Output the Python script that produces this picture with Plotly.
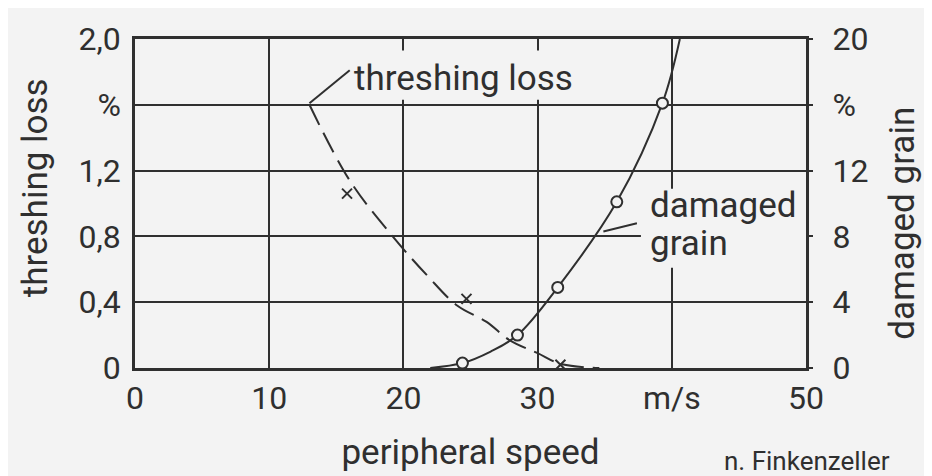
import plotly.graph_objects as go

# ---- data ----
speed_ticks = [0, 10, 20, 30, 40, 50]
speed_ticktext = ["0", "10", "20", "30", "m/s", "50"]
loss_ticks = [0, 0.4, 0.8, 1.2, 1.6, 2.0]
loss_ticktext = ["0", "0,4", "0,8", "1,2", "%", "2,0"]
grain_ticks = [0, 4, 8, 12, 16, 20]
grain_ticktext = ["0", "4", "8", "12", "%", "20"]

# threshing loss (dashed curve, left axis, %)
loss_curve_speed = [13.0, 16.0, 19.2, 21.8, 24.0, 26.2, 27.9, 30.0, 31.7, 34.6]
loss_curve_value = [1.60, 1.14, 0.80, 0.56, 0.38, 0.28, 0.17, 0.09, 0.025, 0.0]
loss_meas_speed = [15.8, 24.7, 31.7]
loss_meas_value = [1.06, 0.42, 0.02]

# damaged grain (solid curve, right axis, %)
grain_curve_speed = [22.0, 24.4, 26.5, 28.5, 31.5, 35.9, 39.3, 40.6]
grain_curve_value = [0.0, 0.3, 1.0, 2.0, 4.9, 10.1, 16.1, 20.0]
grain_meas_speed = [24.4, 28.5, 31.5, 35.9, 39.3]
grain_meas_value = [0.3, 2.0, 4.9, 10.1, 16.1]

INK = "#2f2f2f"
BG = "#f3f3f3"
FONT = "Roboto"

W, H = 932, 476
ML, MR, MT, MB = 127, 134, 25, 116   # page body adds 8px offset
PW, PH = W - ML - MR, H - MT - MB


def px(x_screen):
    return (x_screen - 8 - ML) / PW


def py(y_screen):
    return (H - MB - (y_screen - 8)) / PH


fig = go.Figure()

fig.add_trace(go.Scatter(
    x=loss_curve_speed, y=loss_curve_value, mode="lines",
    line=dict(color=INK, width=2, dash="22px,9px", shape="spline"),
    yaxis="y", showlegend=False, hoverinfo="skip"))
fig.add_trace(go.Scatter(
    x=loss_meas_speed, y=loss_meas_value, mode="markers",
    marker=dict(symbol="x-thin", size=10, line=dict(color=INK, width=2)),
    yaxis="y", showlegend=False))
fig.add_trace(go.Scatter(
    x=grain_curve_speed, y=grain_curve_value, mode="lines",
    line=dict(color=INK, width=2, shape="spline"),
    yaxis="y2", showlegend=False, hoverinfo="skip"))
fig.add_trace(go.Scatter(
    x=grain_meas_speed, y=grain_meas_value, mode="markers",
    marker=dict(symbol="circle", size=11, color=BG, line=dict(color=INK, width=2)),
    yaxis="y2", showlegend=False))

tickfont = dict(family=FONT, size=32, color=INK)
bigfont = dict(family=FONT, size=35, color=INK)

fig.update_layout(
    width=W, height=H,
    margin=dict(l=ML, r=MR, t=MT, b=MB),
    paper_bgcolor=BG, plot_bgcolor=BG,
    font=dict(family=FONT, color=INK),
    xaxis=dict(
        range=[0, 50], tickvals=speed_ticks, ticktext=speed_ticktext,
        showgrid=True, gridcolor=INK, gridwidth=2, zeroline=False,
        showline=True, linecolor=INK, linewidth=2.5, mirror=True,
        ticks="", ticklabelstandoff=0, tickfont=tickfont,
        title=dict(text="peripheral speed", font=bigfont, standoff=24),
    ),
    yaxis=dict(
        range=[0, 2], tickvals=loss_ticks, ticktext=loss_ticktext,
        showgrid=True, gridcolor=INK, gridwidth=2, zeroline=False,
        showline=True, linecolor=INK, linewidth=2.5, mirror=True,
        ticks="", ticklabelstandoff=5, tickfont=tickfont,
    ),
    yaxis2=dict(
        range=[0, 20], tickvals=grain_ticks, ticktext=grain_ticktext,
        overlaying="y", side="right", showgrid=False, zeroline=False,
        showline=False, ticks="outside", ticklen=6, tickwidth=2, tickcolor=INK,
        ticklabelstandoff=13, tickfont=tickfont,
    ),
    shapes=[
        # gaps in the grid behind the labels
        dict(type="rect", xref="x", yref="y", x0=15.6, x1=33.3, y0=1.63, y1=1.93,
             fillcolor=BG, line=dict(width=0), layer="between"),
        dict(type="rect", xref="x", yref="y", x0=37.7, x1=50, y0=0.61, y1=1.09,
             fillcolor=BG, line=dict(width=0), layer="between"),
        # leader lines
        dict(type="line", xref="x", yref="y", x0=13.0, y0=1.61, x1=16.0, y1=1.81,
             line=dict(color=INK, width=2)),
        dict(type="line", xref="x", yref="y2", x0=34.9, y0=8.3, x1=37.4, y1=8.8,
             line=dict(color=INK, width=2)),
    ],
    annotations=[
        dict(text="threshing loss", x=px(35), y=py(185), xref="paper", yref="paper",
             textangle=-90, xanchor="center", yanchor="middle", showarrow=False, font=bigfont),
        dict(text="damaged grain", x=px(903), y=py(221), xref="paper", yref="paper",
             textangle=-90, xanchor="center", yanchor="middle", showarrow=False, font=bigfont),
        dict(text="threshing loss", x=16.2, y=1.76, xref="x", yref="y", xanchor="left",
             yanchor="middle", showarrow=False, font=bigfont),
        dict(text="damaged", x=38.2, y=0.985, xref="x", yref="y", xanchor="left",
             yanchor="middle", showarrow=False, font=bigfont),
        dict(text="grain", x=38.2, y=0.755, xref="x", yref="y", xanchor="left",
             yanchor="middle", showarrow=False, font=bigfont),
        dict(text="n. Finkenzeller", x=px(722), y=py(463),
             xref="paper", yref="paper", xanchor="left", yanchor="middle",
             showarrow=False, font=dict(family=FONT, size=26, color=INK)),
    ],
)

fig.write_html("out.html")
